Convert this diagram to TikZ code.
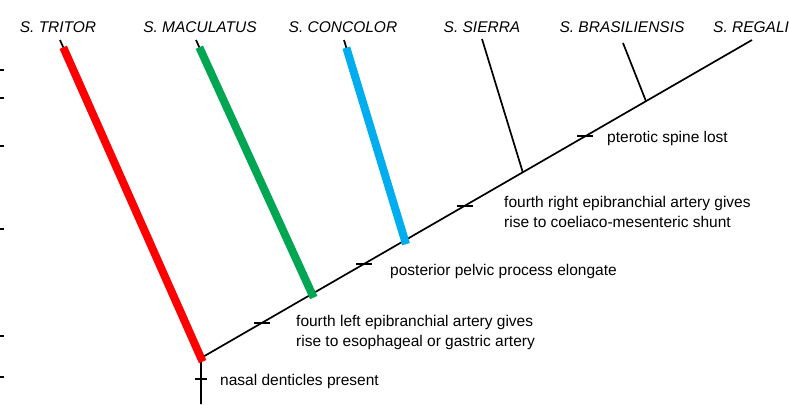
\documentclass[tikz,border=0pt]{standalone}
\usepackage{fontspec}
\setmainfont{Liberation Sans}
\usetikzlibrary{calc}
\definecolor{tritorred}{RGB}{255,0,0}
\definecolor{maculgreen}{RGB}{0,166,81}
\definecolor{concolblue}{RGB}{0,174,239}

\begin{document}
\begin{tikzpicture}[x=1pt, y=-1pt,
  branch/.style={line width=1.7pt, black},
  colbranch/.style={line width=8pt, shorten <=8pt, shorten >=-4pt},
  synapo/.style={line width=2.2pt},
  taxon/.style={font=\fontsize{15.5}{18}\selectfont\itshape, anchor=base, inner sep=0pt},
  trait/.style={font=\fontsize{15.5}{20}\selectfont, anchor=base west, align=left, inner sep=0pt}]
  \useasboundingbox (0,0) rectangle (789,404);

  % root, stem and the long axis of the tree
  \coordinate (root) at (201,358);
  \coordinate (stem) at (201,404);
  \coordinate (regalis) at (752,40);

  % tips of the side branches
  \coordinate (tritor) at (60,40);
  \coordinate (maculatus) at (196,40);
  \coordinate (concolor) at (344,40);
  \coordinate (sierra) at (482,39);
  \coordinate (brasil) at (623,43);

  % joints on the axis
  \coordinate (jmac) at ($(root)!0.2015!(regalis)$);
  \coordinate (jcon) at ($(root)!0.370!(regalis)$);
  \coordinate (jsie) at ($(root)!0.584!(regalis)$);
  \coordinate (jbra) at ($(root)!0.8076!(regalis)$);

  % taxon names
  \node[taxon] (ntritor) at (58,33) {S. TRITOR};
  \node[taxon] (nmacul) at (200,33) {S. MACULATUS};
  \node[taxon] (nconcol) at (343,33) {S. CONCOLOR};
  \node[taxon] (nsierra) at (482,33) {S. SIERRA};
  \node[taxon] (nbrasil) at (622,33) {S. BRASILIENSIS};
  \node[taxon, anchor=base west] (nregal) at (713,33) {S. REGALIS};

  % black branches
  \draw[branch] (stem) -- (root) -- (regalis);
  \draw[branch] (tritor) -- (root);
  \draw[branch] (maculatus) -- (jmac);
  \draw[branch] (concolor) -- (jcon);
  \draw[branch] (sierra) -- (jsie);
  \draw[branch] (brasil) -- (jbra);

  % coloured branches
  \draw[colbranch, tritorred] (tritor) -- (root);
  \draw[colbranch, maculgreen] (maculatus) -- (jmac);
  \draw[colbranch, concolblue] (concolor) -- (jcon);

  % character bars
  \draw[synapo] (195,379) -- (207,379);
  \foreach \t/\n in {0.111/cleft, 0.296/cpelv, 0.479/cright, 0.697/cpter}{
    \coordinate (\n) at ($(root)!\t!(regalis)$);
    \draw[synapo] ($(\n)+(-8,0)$) -- ($(\n)+(8,0)$);
  }

  % character labels (base = last line)
  \node[trait] (tnasal) at (220,385) {nasal denticles present};
  \node[trait] (tleft) at (296,346) {fourth left epibranchial artery gives\\rise to esophageal or gastric artery};
  \node[trait] (tpelv) at (390,275) {posterior pelvic process elongate};
  \node[trait] (tright) at (504,227) {fourth right epibranchial artery gives\\rise to coeliaco-mesenteric shunt};
  \node[trait] (tpter) at (607,142) {pterotic spine lost};

  % marks on the left edge
  \foreach \y in {70,98,146,229,336,377}{
    \draw[line width=1.5pt] (0,\y) -- (4,\y);
  }
\end{tikzpicture}
\end{document}
